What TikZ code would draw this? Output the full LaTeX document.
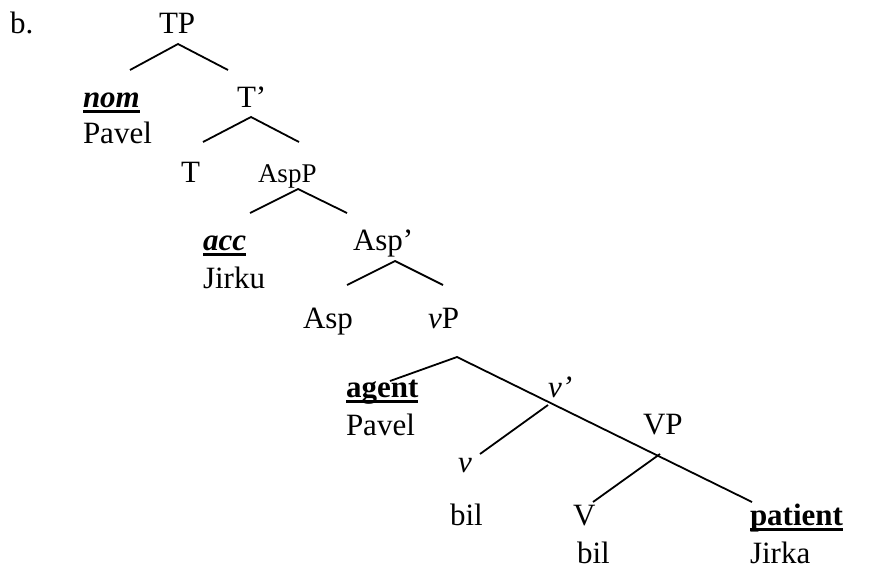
\documentclass[tikz,border=0pt]{standalone}
\usepackage{fontspec}
\setmainfont{Liberation Serif}
\newcommand{\myul}[1]{\setbox0\hbox{#1}\leavevmode\rlap{\vrule width \wd0 height -3pt depth 5.8pt}\box0}
\begin{document}
\begin{tikzpicture}[x=1pt,y=-1pt,
  lbl/.style={anchor=base west,inner sep=0pt,outer sep=0pt,font=\fontsize{31}{37}\selectfont},
  small/.style={lbl,font=\fontsize{27}{32}\selectfont},
  branch/.style={draw,line width=1.8pt}]
\useasboundingbox (0,0) rectangle (877,568);
\node[lbl] (b) at (10,33) {b.};
\node[lbl] (TP) at (159,33) {TP};
\node[lbl] (nom) at (83,107) {\myul{\textbf{\textit{nom}}}};
\node[lbl] (pavel1) at (83,143) {Pavel};
\node[lbl] (Tbar) at (237,107) {T’};
\node[lbl] (T) at (181,182) {T};
\node[small] (AspP) at (258,182) {AspP};
\node[lbl] (acc) at (203,250) {\myul{\textbf{\textit{acc}}}};
\node[lbl] (jirku) at (203,288) {Jirku};
\node[lbl] (Aspbar) at (353,250) {Asp’};
\node[lbl] (Asp) at (303,328) {Asp};
\node[lbl] (vP) at (428,328) {\textit{v}P};
\node[lbl] (agent) at (346,397) {\myul{\textbf{agent}}};
\node[lbl] (pavel2) at (346,435) {Pavel};
\node[lbl] (vbar) at (548,397) {\textit{v’}};
\node[lbl] (v) at (458,472) {\textit{v}};
\node[lbl] (VP) at (643,434) {VP};
\node[lbl] (bil1) at (450,525) {bil};
\node[lbl] (V) at (573,525) {V};
\node[lbl] (bil2) at (577,563) {bil};
\node[lbl] (patient) at (750,525) {\myul{\textbf{patient}}};
\node[lbl] (jirka) at (750,563) {Jirka};
% branch points
\coordinate (tpL) at (130,70); \coordinate (tpA) at (178,44); \coordinate (tpR) at (228,70);
\coordinate (tbL) at (203,142); \coordinate (tbA) at (251,117); \coordinate (tbR) at (299,142);
\coordinate (apL) at (250,213); \coordinate (apA) at (298,189); \coordinate (apR) at (347,213);
\coordinate (abL) at (347,285); \coordinate (abA) at (395,261); \coordinate (abR) at (443,285);
\coordinate (vpL) at (390,381); \coordinate (vpA) at (457,357); \coordinate (vpR) at (752,502);
\coordinate (vbA) at (548,405); \coordinate (vbL) at (480,454);
\coordinate (VPA) at (660,454); \coordinate (VPL) at (593,502);
\draw[branch] (tpL) -- (tpA) -- (tpR);
\draw[branch] (tbL) -- (tbA) -- (tbR);
\draw[branch] (apL) -- (apA) -- (apR);
\draw[branch] (abL) -- (abA) -- (abR);
\draw[branch] (vpL) -- (vpA) -- (vpR);
\draw[branch] (vbA) -- (vbL);
\draw[branch] (VPA) -- (VPL);
\end{tikzpicture}
\end{document}
